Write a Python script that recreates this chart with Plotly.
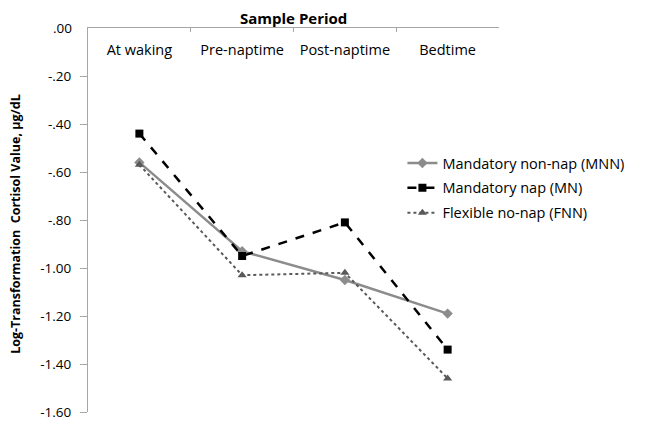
import plotly.graph_objects as go

categories = ["At waking", "Pre-naptime", "Post-naptime", "Bedtime"]
mnn = [-0.56, -0.93, -1.05, -1.19]
mn = [-0.44, -0.95, -0.81, -1.34]
fnn = [-0.57, -1.03, -1.02, -1.46]
ytick_vals = [0, -0.2, -0.4, -0.6, -0.8, -1.0, -1.2, -1.4, -1.6]
ytick_text = [".00", "-.20", "-.40", "-.60", "-.80", "-1.00", "-1.20", "-1.40", "-1.60"]

FONT = "Open Sans"

fig = go.Figure()
fig.add_trace(go.Scatter(x=categories, y=mnn, name="Mandatory non-nap (MNN)", mode="lines+markers",
                         legendgroup="a",
                         line=dict(color="#8c8c8c", width=2.5),
                         marker=dict(symbol="diamond", size=8, color="#8c8c8c")))
fig.add_trace(go.Scatter(x=categories, y=mn, name="Mandatory nap (MN)", mode="lines+markers",
                         legendgroup="b",
                         line=dict(color="#000000", width=2.5, dash="dash"),
                         marker=dict(symbol="square", size=8, color="#000000")))
fig.add_trace(go.Scatter(x=categories, y=fnn, name="Flexible no-nap (FNN)", mode="lines+markers",
                         legendgroup="c",
                         line=dict(color="#595959", width=2, dash="dot"),
                         marker=dict(symbol="triangle-up", size=8, color="#595959")))

# page body has an 8px margin, so the figure is sized and offset to match
fig.update_layout(
    width=658, height=413,
    margin=dict(l=80, r=167, t=20, b=9),
    paper_bgcolor="white", plot_bgcolor="white",
    font=dict(family=FONT, size=13, color="#000000"),
    showlegend=True,
    legend=dict(x=0.765, y=0.69, xanchor="left", yanchor="top",
                font=dict(family=FONT, size=14.5, color="#000000"),
                bgcolor="rgba(0,0,0,0)", tracegroupgap=3, itemwidth=30),
    xaxis=dict(side="top", type="category", ticklabelposition="inside",
               showline=True, linecolor="#a6a6a6", linewidth=1,
               ticks="inside", tickson="boundaries", ticklen=4, tickcolor="#a6a6a6",
               ticklabelstandoff=13,
               showgrid=False, zeroline=False, range=[-0.5, 3.5], automargin=False,
               tickfont=dict(family=FONT, size=14.5, color="#000000")),
    yaxis=dict(range=[-1.6, 0.0], tickvals=ytick_vals, ticktext=ytick_text,
               showline=True, linecolor="#a6a6a6", linewidth=1,
               ticks="outside", ticklen=7, tickcolor="#a6a6a6",
               ticklabelstandoff=6,
               showgrid=False, zeroline=False, automargin=False,
               tickfont=dict(family=FONT, size=13.5, color="#000000")),
)
# the top tick label is hidden by plotly where it meets the top axis, so draw it on the y scale
fig.add_annotation(text=ytick_text[0], x=0, xref="paper", y=ytick_vals[0], yref="y",
                   xanchor="right", yanchor="middle", xshift=-14, showarrow=False,
                   font=dict(family=FONT, size=13.5, color="#000000"))
fig.add_annotation(text="<b>Sample Period</b>", x=0.5, y=1.0, xref="paper", yref="paper",
                   xanchor="center", yanchor="middle", yshift=10, showarrow=False,
                   font=dict(family=FONT, size=15))
fig.add_annotation(text="<b>Log-Transformation  Cortisol Value, µg/dL</b>", xref="paper", yref="paper",
                   x=0, y=0.49, xanchor="center", yanchor="middle", xshift=-72, textangle=-90,
                   showarrow=False, font=dict(family=FONT, size=12.5))

fig.write_html("out.html")
